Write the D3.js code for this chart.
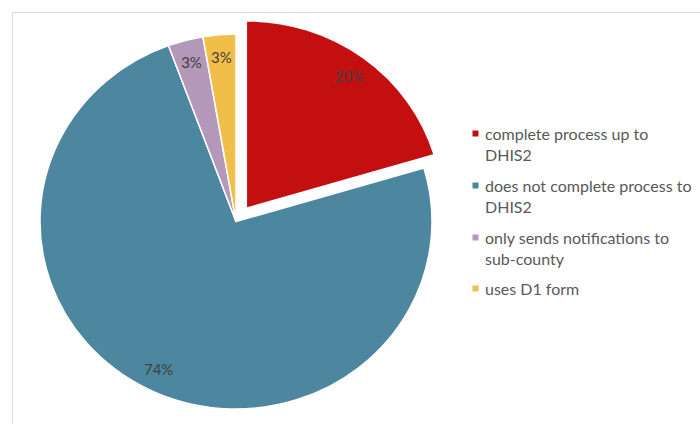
<!DOCTYPE html>
<html>
<head>
<meta charset="utf-8">
<script src="https://cdn.jsdelivr.net/npm/d3@7"></script>
<style>
  body { margin: 0; background: #fff; }
</style>
</head>
<body>
<script>
// chart data
var categories = ["complete process up to DHIS2", "does not complete process to DHIS2",
                  "only sends notifications to sub-county", "uses D1 form"];
var values = [20.4, 74.0, 2.9, 2.7];
var colors = ["#C40F10", "#4C869F", "#B398B9", "#F2BE4A"];
// legend text, wrapped like the original
var legendLines = [["complete process up to", "DHIS2"],
                   ["does not complete process to", "DHIS2"],
                   ["only sends notifications to", "sub-county"],
                   ["uses D1 form"]];

var width = 700, height = 424;
var cx = 236, cy = 221.5, r = 187.5;
var sx = 196 / 187.5;   // the original pie is a bit wider than tall
var explode = 16.5;

var svg = d3.select("body").append("svg")
    .attr("width", width)
    .attr("height", height);

// chart area border
svg.append("rect")
    .attr("x", 12.5).attr("y", 12.5)
    .attr("width", width).attr("height", height)
    .attr("fill", "none")
    .attr("stroke", "#D9D9D9");

var total = d3.sum(values);
var pie = d3.pie().sort(null).value(function(d) { return d; });
var arcs = pie(values);

var arc = d3.arc().innerRadius(0).outerRadius(r);
var labelArc = d3.arc().innerRadius(r * 0.88).outerRadius(r * 0.88);

function offset(d, i) {
  if (i !== 0) return [0, 0];
  var mid = (d.startAngle + d.endAngle) / 2;
  return [Math.sin(mid) * explode, -Math.cos(mid) * explode];
}

var g = svg.append("g")
    .attr("transform", "translate(" + cx + "," + cy + ") scale(" + sx + ",1)");

g.selectAll("path")
    .data(arcs)
  .enter().append("path")
    .attr("transform", function(d, i) {
      var o = offset(d, i);
      return "translate(" + o[0] + "," + o[1] + ")";
    })
    .attr("d", arc)
    .attr("fill", function(d, i) { return colors[i]; })
    .attr("stroke", "#fff")
    .attr("stroke-width", 1.5)
    .attr("vector-effect", "non-scaling-stroke");

// percentage labels
svg.selectAll("text.pct")
    .data(arcs)
  .enter().append("text")
    .attr("class", "pct")
    .attr("x", function(d, i) { return cx + (labelArc.centroid(d)[0] + offset(d, i)[0]) * sx; })
    .attr("y", function(d, i) { return cy + labelArc.centroid(d)[1] + offset(d, i)[1]; })
    .attr("text-anchor", "middle")
    .attr("dominant-baseline", "central")
    .style("font-family", "Lato, 'Open Sans', sans-serif")
    .style("font-size", "15px")
    .style("fill", "#404040")
    .text(function(d) { return Math.round(d.value / total * 100) + "%"; });

// legend
var legend = svg.append("g");
var itemY = [133.5, 185.5, 237.5, 288.5];

legendLines.forEach(function(lines, i) {
  legend.append("rect")
      .attr("x", 472.5).attr("y", itemY[i] - 3)
      .attr("width", 6).attr("height", 6)
      .attr("fill", colors[i]);
  lines.forEach(function(t, j) {
    legend.append("text")
        .attr("x", 485)
        .attr("y", itemY[i] + j * 20.5)
        .attr("dominant-baseline", "central")
        .style("font-family", "Lato, 'Open Sans', sans-serif")
        .style("font-size", "16px")
        .style("fill", "#595959")
        .text(t);
  });
});
</script>
</body>
</html>
